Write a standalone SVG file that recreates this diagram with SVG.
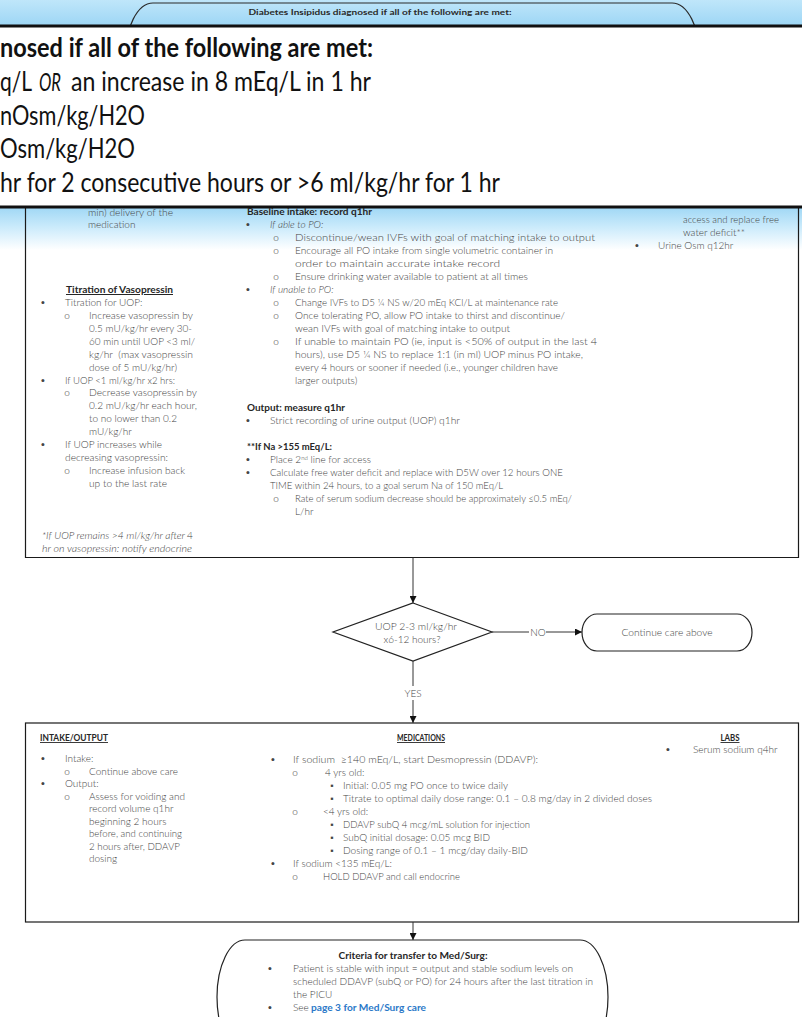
<svg xmlns="http://www.w3.org/2000/svg" width="802" height="1017" viewBox="0 0 802 1017">
  <defs>
    <linearGradient id="strip" x1="0" y1="0" x2="0" y2="1">
      <stop offset="0" stop-color="#bfe6fa"/>
      <stop offset="1" stop-color="#9dd6f5"/>
    </linearGradient>
    <linearGradient id="band" x1="0" y1="0" x2="0" y2="1">
      <stop offset="0" stop-color="#9fd7f5"/>
      <stop offset="0.45" stop-color="#c9eafb"/>
      <stop offset="1" stop-color="#ffffff"/>
    </linearGradient>
    <marker id="arrow" viewBox="0 0 8 8" refX="8" refY="4" markerWidth="7" markerHeight="7" markerUnits="userSpaceOnUse" orient="auto">
      <path d="M0,0 L8,4 L0,8 Z" fill="#111"/>
    </marker>
    <style>
      text { font-family: Lato, "Liberation Sans", "DejaVu Sans", sans-serif; font-size: 10px; font-weight: 300; fill: #444; }
      .big { font-size: 26px; font-weight: normal; fill: #111; }
      .b { font-weight: bold; fill: #262626; }
      .big.b { fill: #111; }
      .i { font-style: italic; }
      .u { text-decoration: underline; }
      .c { text-anchor: middle; }
      .h9 { font-size: 9px; }
      .hdr { font-size: 8px; font-weight: bold; fill: #2a2a2a; }
      .link { font-weight: bold; fill: #2a78c8; }
      .box { fill: none; stroke: #1a1a1a; stroke-width: 1.2; }
      .thick { stroke: #111; stroke-width: 3; }
      .shape { fill: #ffffff; stroke: #222; stroke-width: 1.2; }
      .edge { fill: none; stroke: #333; stroke-width: 1; }
      .arr { marker-end: url(#arrow); }
    </style>
  </defs>

  <rect width="802" height="1017" fill="#ffffff"/>

  <!-- title strip with the start terminator -->
  <g id="title">
    <rect x="0" y="0" width="802" height="26" fill="url(#strip)"/>
    <path d="M153,3 L672,3 A28,55 0 0 1 700,58 A28,55 0 0 1 672,113 L153,113 A28,55 0 0 1 125,58 A28,55 0 0 1 153,3 Z" fill="none" stroke="#2a2a2a" stroke-width="1.2"/>
    <text class="hdr c" x="380" y="15" textLength="263" lengthAdjust="spacingAndGlyphs">Diabetes Insipidus diagnosed if all of the following are met:</text>
  </g>

  <!-- enlarged criteria panel -->
  <g id="criteria">
    <rect x="0" y="26" width="802" height="181" fill="#ffffff"/>
    <line class="thick" x1="0" y1="26" x2="802" y2="26"/>
    <text class="big b" x="0" y="57" textLength="373" lengthAdjust="spacingAndGlyphs">nosed if all of the following are met:</text>
    <text class="big" x="0" y="91" textLength="32" lengthAdjust="spacingAndGlyphs">q/L</text>
    <text class="big i" x="39" y="91" textLength="22" lengthAdjust="spacingAndGlyphs">OR</text>
    <text class="big" x="71" y="91" textLength="300" lengthAdjust="spacingAndGlyphs">an increase in 8 mEq/L in 1 hr</text>
    <text class="big" x="0" y="125" textLength="145" lengthAdjust="spacingAndGlyphs">nOsm/kg/H2O</text>
    <text class="big" x="0" y="158" textLength="135" lengthAdjust="spacingAndGlyphs">Osm/kg/H2O</text>
    <text class="big" x="0" y="192" textLength="500" lengthAdjust="spacingAndGlyphs">hr for 2 consecutive hours or &gt;6 ml/kg/hr for 1 hr</text>
  </g>

  <!-- PICU management box -->
  <g id="picu-care">
    <rect x="0" y="207" width="802" height="43" fill="url(#band)"/>
    <path class="box" d="M25.5,207 V557.5 H798.5 V207"/>
    <line class="thick" x1="0" y1="207" x2="802" y2="207"/>

    <!-- left column: vasopressin -->
    <text x="88" y="216" textLength="85" lengthAdjust="spacingAndGlyphs">min) delivery of the</text>
    <text x="88" y="228">medication</text>
    <text class="b u" x="66" y="293" textLength="107" lengthAdjust="spacingAndGlyphs">Titration of Vasopressin</text>
    <text class="c" x="43" y="306">•</text>
    <text x="65" y="306">Titration for UOP:</text>
    <text class="c" x="67" y="319">o</text>
    <text x="89" y="319" textLength="104" lengthAdjust="spacingAndGlyphs">Increase vasopressin by</text>
    <text x="89" y="332" textLength="103" lengthAdjust="spacingAndGlyphs">0.5 mU/kg/hr every 30-</text>
    <text x="89" y="345" textLength="106" lengthAdjust="spacingAndGlyphs">60 min until UOP &lt;3 ml/</text>
    <text x="89" y="358" textLength="104" lengthAdjust="spacingAndGlyphs" xml:space="preserve">kg/hr  (max vasopressin</text>
    <text x="89" y="371" textLength="88" lengthAdjust="spacingAndGlyphs">dose of 5 mU/kg/hr)</text>
    <text class="c" x="43" y="384">•</text>
    <text x="65" y="384" textLength="110" lengthAdjust="spacingAndGlyphs">If UOP &lt;1 ml/kg/hr x2 hrs:</text>
    <text class="c" x="67" y="396">o</text>
    <text x="89" y="396" textLength="108" lengthAdjust="spacingAndGlyphs">Decrease vasopressin by</text>
    <text x="89" y="409" textLength="108" lengthAdjust="spacingAndGlyphs">0.2 mU/kg/hr each hour,</text>
    <text x="89" y="422" textLength="88" lengthAdjust="spacingAndGlyphs">to no lower than 0.2</text>
    <text x="89" y="435">mU/kg/hr</text>
    <text class="c" x="43" y="448">•</text>
    <text x="65" y="448" textLength="97" lengthAdjust="spacingAndGlyphs">If UOP increases while</text>
    <text x="65" y="461" textLength="103" lengthAdjust="spacingAndGlyphs">decreasing vasopressin:</text>
    <text class="c" x="67" y="474">o</text>
    <text x="89" y="474" textLength="96" lengthAdjust="spacingAndGlyphs">Increase infusion back</text>
    <text x="89" y="487" textLength="78" lengthAdjust="spacingAndGlyphs">up to the last rate</text>
    <text class="i" x="42" y="539" textLength="143" lengthAdjust="spacingAndGlyphs">*If UOP remains &gt;4 ml/kg/hr after</text>
    <text x="187" y="539">4</text>
    <text class="i" x="42" y="552" textLength="150" lengthAdjust="spacingAndGlyphs">hr on vasopressin: notify endocrine</text>

    <!-- middle column: intake / output -->
    <text class="b" x="247" y="215" textLength="125" lengthAdjust="spacingAndGlyphs">Baseline intake: record q1hr</text>
    <text class="c" x="248" y="228">•</text>
    <text class="i" x="270" y="228">If able to PO:</text>
    <text class="c" x="276" y="241">o</text>
    <text x="295" y="241" textLength="300" lengthAdjust="spacingAndGlyphs">Discontinue/wean IVFs with goal of matching intake to output</text>
    <text class="c" x="276" y="254">o</text>
    <text x="295" y="254" textLength="258" lengthAdjust="spacingAndGlyphs">Encourage all PO intake from single volumetric container in</text>
    <text x="295" y="267" textLength="205" lengthAdjust="spacingAndGlyphs">order to maintain accurate intake record</text>
    <text class="c" x="276" y="280">o</text>
    <text x="295" y="280" textLength="233" lengthAdjust="spacingAndGlyphs">Ensure drinking water available to patient at all times</text>
    <text class="c" x="248" y="293">•</text>
    <text class="i" x="270" y="293">If unable to PO:</text>
    <text class="c" x="276" y="306">o</text>
    <text x="295" y="306" textLength="263" lengthAdjust="spacingAndGlyphs">Change IVFs to D5 ¼ NS w/20 mEq KCl/L at maintenance rate</text>
    <text class="c" x="276" y="319">o</text>
    <text x="295" y="319" textLength="270" lengthAdjust="spacingAndGlyphs">Once tolerating PO, allow PO intake to thirst and discontinue/</text>
    <text x="295" y="332" textLength="215" lengthAdjust="spacingAndGlyphs">wean IVFs with goal of matching intake to output</text>
    <text class="c" x="276" y="345">o</text>
    <text x="295" y="345" textLength="302" lengthAdjust="spacingAndGlyphs">If unable to maintain PO (ie, input is &lt;50% of output in the last 4</text>
    <text x="295" y="358" textLength="288" lengthAdjust="spacingAndGlyphs">hours), use D5 ¼ NS to replace 1:1 (in ml) UOP minus PO intake,</text>
    <text x="295" y="371" textLength="263" lengthAdjust="spacingAndGlyphs">every 4 hours or sooner if needed (i.e., younger children have</text>
    <text x="295" y="384">larger outputs)</text>
    <text class="b" x="247" y="411" textLength="98" lengthAdjust="spacingAndGlyphs">Output: measure q1hr</text>
    <text class="c" x="248" y="424">•</text>
    <text x="270" y="424" textLength="190" lengthAdjust="spacingAndGlyphs">Strict recording of urine output (UOP) q1hr</text>
    <text class="b" x="247" y="450" textLength="85" lengthAdjust="spacingAndGlyphs">**If Na &gt;155 mEq/L:</text>
    <text class="c" x="248" y="463">•</text>
    <text x="270" y="463">Place 2<tspan dy="-3" font-size="6">nd</tspan><tspan dy="3"> line for access</tspan></text>
    <text class="c" x="248" y="476">•</text>
    <text x="270" y="476" textLength="293" lengthAdjust="spacingAndGlyphs">Calculate free water deficit and replace with D5W over 12 hours ONE</text>
    <text x="270" y="489" textLength="233" lengthAdjust="spacingAndGlyphs">TIME within 24 hours, to a goal serum Na of 150 mEq/L</text>
    <text class="c" x="276" y="502">o</text>
    <text x="295" y="502" textLength="277" lengthAdjust="spacingAndGlyphs">Rate of serum sodium decrease should be approximately ≤0.5 mEq/</text>
    <text x="295" y="515">L/hr</text>

    <!-- right column: labs -->
    <text x="683" y="223" textLength="96" lengthAdjust="spacingAndGlyphs">access and replace free</text>
    <text x="683" y="236">water deficit**</text>
    <text class="c" x="637" y="249">•</text>
    <text x="658" y="249">Urine Osm q12hr</text>
  </g>

  <!-- decision -->
  <g id="decision">
    <polygon class="shape" points="413,603 492,632 413,661 333,632"/>
    <text class="c" x="416" y="630" textLength="82" lengthAdjust="spacingAndGlyphs">UOP 2-3 ml/kg/hr</text>
    <text class="c" x="412" y="643">x6-12 hours?</text>
  </g>

  <g id="continue">
    <rect class="shape" x="582" y="614" width="170" height="37" rx="15" ry="18.5"/>
    <text class="c" x="667" y="636" textLength="91" lengthAdjust="spacingAndGlyphs">Continue care above</text>
  </g>

  <!-- DDAVP phase box -->
  <g id="ddavp-care">
    <rect class="box" x="25.5" y="723" width="773" height="199"/>
    <text class="b u h9" x="40" y="741" textLength="68" lengthAdjust="spacingAndGlyphs">INTAKE/OUTPUT</text>
    <text class="c" x="43" y="762">•</text>
    <text x="65" y="762">Intake:</text>
    <text class="c" x="67" y="775">o</text>
    <text x="89" y="775" textLength="89" lengthAdjust="spacingAndGlyphs">Continue above care</text>
    <text class="c" x="43" y="787">•</text>
    <text x="65" y="787">Output:</text>
    <text class="c" x="67" y="800">o</text>
    <text x="89" y="800" textLength="96" lengthAdjust="spacingAndGlyphs">Assess for voiding and</text>
    <text x="89" y="812">record volume q1hr</text>
    <text x="89" y="825">beginning 2 hours</text>
    <text x="89" y="837" textLength="93" lengthAdjust="spacingAndGlyphs">before, and continuing</text>
    <text x="89" y="850" textLength="91" lengthAdjust="spacingAndGlyphs">2 hours after, DDAVP</text>
    <text x="89" y="862">dosing</text>

    <text class="b u c h9" x="421" y="741" textLength="48" lengthAdjust="spacingAndGlyphs">MEDICATIONS</text>
    <text class="c" x="273" y="763">•</text>
    <text x="293" y="763" textLength="245" lengthAdjust="spacingAndGlyphs" xml:space="preserve">If sodium  ≥140 mEq/L, start Desmopressin (DDAVP):</text>
    <text class="c" x="295" y="776">o</text>
    <text x="325" y="776">4 yrs old:</text>
    <text class="c" x="332" y="789">▪</text>
    <text x="343" y="789" textLength="165" lengthAdjust="spacingAndGlyphs">Initial: 0.05 mg PO once to twice daily</text>
    <text class="c" x="332" y="802">▪</text>
    <text x="343" y="802" textLength="309" lengthAdjust="spacingAndGlyphs">Titrate to optimal daily dose range: 0.1 – 0.8 mg/day in 2 divided doses</text>
    <text class="c" x="295" y="815">o</text>
    <text x="323" y="815">&lt;4 yrs old:</text>
    <text class="c" x="332" y="828">▪</text>
    <text x="343" y="828" textLength="187" lengthAdjust="spacingAndGlyphs">DDAVP subQ 4 mcg/mL solution for injection</text>
    <text class="c" x="332" y="841">▪</text>
    <text x="343" y="841" textLength="147" lengthAdjust="spacingAndGlyphs">SubQ initial dosage: 0.05 mcg BID</text>
    <text class="c" x="332" y="854">▪</text>
    <text x="343" y="854" textLength="185" lengthAdjust="spacingAndGlyphs">Dosing range of 0.1 – 1 mcg/day daily-BID</text>
    <text class="c" x="273" y="867">•</text>
    <text x="293" y="867">If sodium &lt;135 mEq/L:</text>
    <text class="c" x="295" y="880">o</text>
    <text x="323" y="880" textLength="137" lengthAdjust="spacingAndGlyphs">HOLD DDAVP and call endocrine</text>

    <text class="b u c h9" x="730" y="741" textLength="19" lengthAdjust="spacingAndGlyphs">LABS</text>
    <text class="c" x="668" y="753">•</text>
    <text x="693" y="753">Serum sodium q4hr</text>
  </g>

  <!-- transfer terminator -->
  <g id="transfer">
    <path class="shape" d="M245,940 L580,940 A28,57 0 0 1 608,997 A28,57 0 0 1 580,1054 L245,1054 A28,57 0 0 1 217,997 A28,57 0 0 1 245,940 Z"/>
    <text class="b c" x="413" y="959" textLength="149" lengthAdjust="spacingAndGlyphs">Criteria for transfer to Med/Surg:</text>
    <text class="c" x="270" y="972">•</text>
    <text x="293" y="972" textLength="280" lengthAdjust="spacingAndGlyphs">Patient is stable with input = output and stable sodium levels on</text>
    <text x="293" y="985" textLength="300" lengthAdjust="spacingAndGlyphs">scheduled DDAVP (subQ or PO) for 24 hours after the last titration in</text>
    <text x="293" y="998">the PICU</text>
    <text class="c" x="270" y="1011">•</text>
    <text x="293" y="1011">See</text>
    <text class="link" x="311" y="1011" textLength="115" lengthAdjust="spacingAndGlyphs">page 3 for Med/Surg care</text>
  </g>

  <!-- connectors -->
  <g id="connectors">
    <line class="edge arr" x1="413" y1="557.5" x2="413" y2="603"/>
    <line class="edge" x1="492" y1="632" x2="529" y2="632"/>
    <line class="edge arr" x1="546" y1="632" x2="582" y2="632"/>
    <text class="c" x="538" y="636">NO</text>
    <line class="edge" x1="413" y1="661" x2="413" y2="686"/>
    <text class="c" x="413" y="697">YES</text>
    <line class="edge arr" x1="413" y1="700" x2="413" y2="723"/>
    <line class="edge arr" x1="413" y1="922" x2="413" y2="940"/>
  </g>
</svg>
